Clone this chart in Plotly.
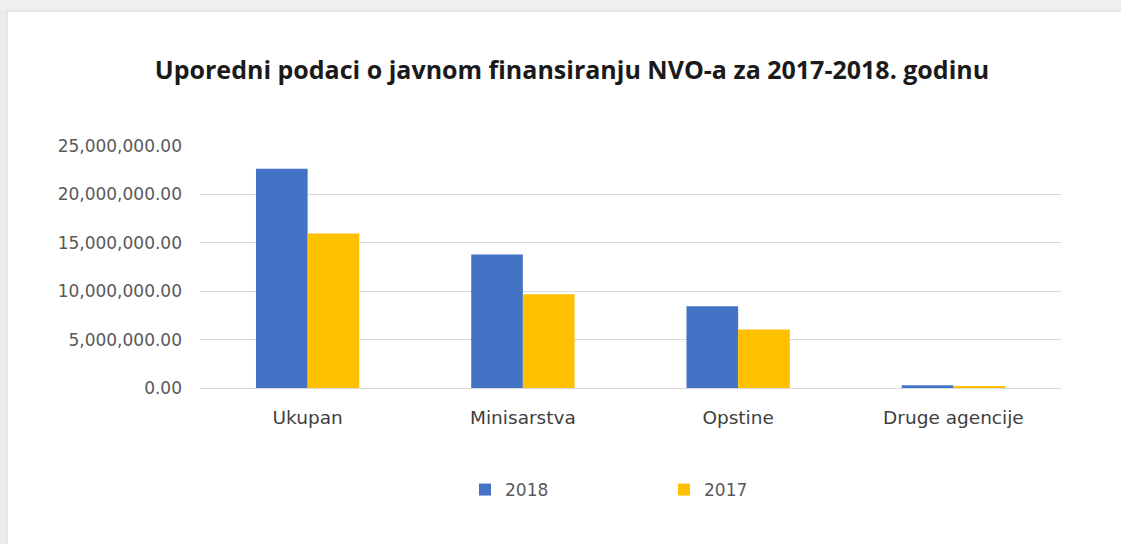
import plotly.graph_objects as go

categories = ["Ukupan", "Minisarstva", "Opstine", "Druge agencije"]
values_2018 = [22650000, 13780000, 8450000, 280000]
values_2017 = [15950000, 9690000, 6050000, 150000]
series_names = ["2018", "2017"]
colors = ["#4472C4", "#FFC000"]
title_text = "Uporedni podaci o javnom finansiranju NVO-a za 2017-2018. godinu"

W, H = 1121, 544
ML, MR, MT, MB = 200, 60, 146, 156
pw, ph = W - ML - MR, H - MT - MB

def px_x(x):
    return (x - ML) / pw

def px_y(y):
    return 1 - (y - MT) / ph

fig = go.Figure()
for name, vals, c in zip(series_names, [values_2018, values_2017], colors):
    fig.add_trace(go.Bar(x=categories, y=vals, name=name, marker_color=c,
                         marker_line_width=0))

shapes = [
    dict(type="rect", xref="paper", yref="paper", x0=px_x(0), x1=px_x(7),
         y0=px_y(H), y1=px_y(0), fillcolor="#ececec", line_width=0, layer="below"),
    dict(type="rect", xref="paper", yref="paper", x0=px_x(0), x1=px_x(W),
         y0=px_y(11), y1=px_y(0), fillcolor="#efefef", line_width=0, layer="below"),
    dict(type="line", xref="paper", yref="paper", x0=px_x(7), x1=px_x(W),
         y0=px_y(11), y1=px_y(11), line=dict(color="#d6d6d6", width=1)),
    dict(type="line", xref="paper", yref="paper", x0=px_x(7), x1=px_x(7),
         y0=px_y(11), y1=px_y(H), line=dict(color="#d6d6d6", width=1)),
]

fig.update_layout(
    width=W, height=H,
    margin=dict(l=ML, r=MR, t=MT, b=MB),
    paper_bgcolor="white", plot_bgcolor="white",
    title=dict(text=title_text, x=572 / W, xanchor="center", y=1 - 70 / H,
               yanchor="middle",
               font=dict(family="Open Sans", size=25, color="#1a1a1a", weight="bold")),
    barmode="group", bargap=0.52, bargroupgap=0,
    showlegend=True,
    legend=dict(orientation="h", x=px_x(465), xanchor="left", y=px_y(490),
                yanchor="middle", entrywidth=154, entrywidthmode="pixels",
                font=dict(family="DejaVu Sans", size=17, color="#595959"),
                itemwidth=30),
    shapes=shapes,
    font=dict(family="DejaVu Sans"),
)
fig.update_yaxes(range=[0, 25000000], dtick=5000000, tickformat=",.2f",
                 gridcolor="#d9d9d9", gridwidth=1, zeroline=True,
                 zerolinecolor="#d9d9d9", zerolinewidth=1, showline=False,
                 ticks="", ticklen=0, ticklabelstandoff=17,
                 tickfont=dict(family="DejaVu Sans", size=17, color="#595959"))
fig.update_xaxes(showline=False, ticks="", ticklabelstandoff=16,
                 tickfont=dict(family="DejaVu Sans", size=18.5, color="#404040"))

fig.write_html("out.html", config={"displayModeBar": False},
               post_script="document.body.style.margin='0';")
